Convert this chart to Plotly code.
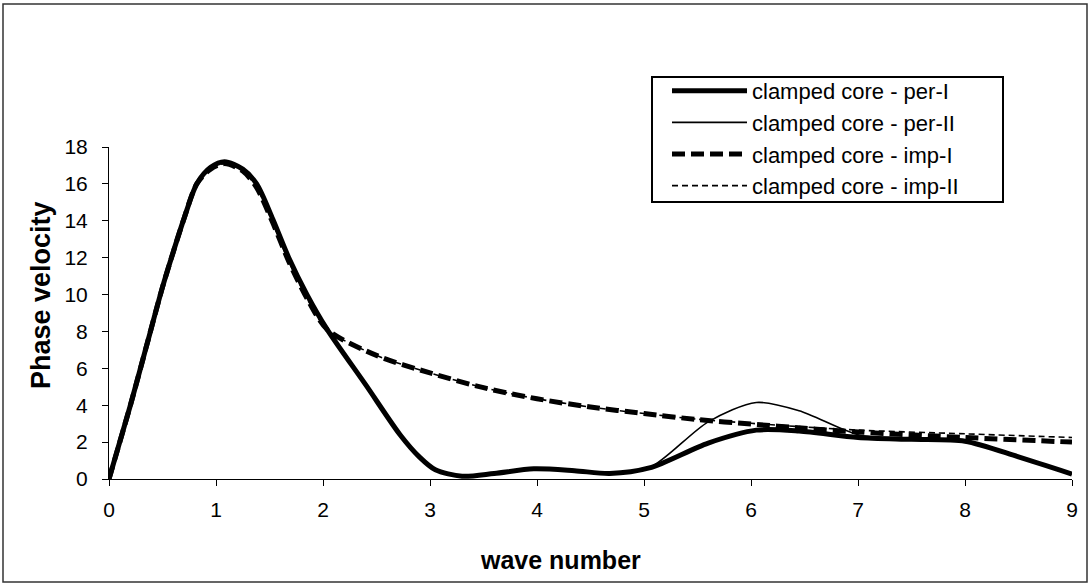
import plotly.graph_objects as go

# ---- data ----
x_per = [0, 0.2, 0.35, 0.5, 0.6, 0.7, 0.82, 0.95, 1.08, 1.25, 1.38, 1.53, 1.68, 1.85, 2.04,
         2.4, 2.72, 2.9, 3.05, 3.3, 3.6, 3.97, 4.35, 4.68, 5.05, 5.6, 6.05, 6.45, 7.0, 7.5,
         8.0, 8.5, 9.0]
per_I = [0, 4.0, 7.2, 10.4, 12.3, 14.1, 16.0, 16.9, 17.2, 16.8, 16.0, 14.1, 12.0, 10.0, 8.1,
         5.1, 2.4, 1.2, 0.5, 0.15, 0.3, 0.55, 0.45, 0.3, 0.6, 1.95, 2.65, 2.6, 2.25, 2.15,
         2.05, 1.2, 0.27]
per_II = [0, 4.0, 7.2, 10.4, 12.3, 14.1, 16.0, 16.9, 17.2, 16.8, 16.0, 14.1, 12.0, 10.0, 8.1,
          5.1, 2.4, 1.2, 0.5, 0.15, 0.3, 0.55, 0.45, 0.3, 0.6, 3.1, 4.15, 3.7, 2.4, 2.15,
          2.05, 1.2, 0.27]

x_imp = [0, 0.2, 0.35, 0.5, 0.6, 0.7, 0.82, 0.95, 1.08, 1.25, 1.38, 1.53, 1.68, 1.85, 2.04,
         2.5, 3.0, 3.5, 4.0, 4.5, 5.0, 5.5, 6.0, 6.5, 7.0, 8.0, 9.0]
imp_I = [0, 4.0, 7.2, 10.4, 12.3, 14.1, 16.0, 16.8, 17.1, 16.7, 15.8, 13.9, 11.8, 9.8, 8.1,
         6.7, 5.75, 4.95, 4.35, 3.9, 3.55, 3.22, 2.98, 2.75, 2.55, 2.25, 2.0]
imp_II = [0, 4.0, 7.2, 10.4, 12.3, 14.1, 16.0, 16.8, 17.1, 16.7, 15.8, 13.9, 11.8, 9.8, 8.1,
          6.7, 5.75, 4.95, 4.35, 3.9, 3.55, 3.24, 3.02, 2.82, 2.65, 2.45, 2.25]

names = ["clamped core - per-I", "clamped core - per-II",
         "clamped core - imp-I", "clamped core - imp-II"]

x_ticks = list(range(0, 10))
y_ticks = list(range(0, 19, 2))

FONT = "Liberation Sans, Arial, sans-serif"

fig = go.Figure()
fig.add_trace(go.Scatter(x=x_per, y=per_I, name=names[0], mode="lines",
                         line=dict(color="black", width=5, shape="spline", smoothing=0.8)))
fig.add_trace(go.Scatter(x=x_per, y=per_II, name=names[1], mode="lines",
                         line=dict(color="black", width=1.6, shape="spline", smoothing=0.8)))
fig.add_trace(go.Scatter(x=x_imp, y=imp_I, name=names[2], mode="lines",
                         line=dict(color="black", width=5, dash="13px,6px",
                                   shape="spline", smoothing=0.8)))
fig.add_trace(go.Scatter(x=x_imp, y=imp_II, name=names[3], mode="lines",
                         line=dict(color="black", width=1.6, dash="6px,4px",
                                   shape="spline", smoothing=0.8)))

L, R, T, B = 109, 19, 147, 105
W, H = 1091, 584
pw, ph = W - L - R, H - T - B

def px_x(p):
    return (p - L) / pw

def px_y(p):
    return (H - B - p) / ph

fig.update_layout(
    width=W, height=H,
    margin=dict(l=L, r=R, t=T, b=B, autoexpand=False),
    paper_bgcolor="white", plot_bgcolor="white",
    font=dict(family=FONT, size=21, color="black"),
    showlegend=True,
    legend=dict(x=px_x(667), y=px_y(70), xanchor="left", yanchor="top",
                bgcolor="rgba(0,0,0,0)", borderwidth=0,
                font=dict(family=FONT, size=22, color="black"),
                itemwidth=75, tracegroupgap=0),
    xaxis=dict(range=[0, 9], tickvals=x_ticks, showgrid=False, zeroline=False,
               showline=True, linecolor="black", linewidth=1,
               ticks="outside", ticklen=6, tickcolor="black", tickwidth=1,
               ticklabelstandoff=6),
    yaxis=dict(range=[0, 18], tickvals=y_ticks, showgrid=False, zeroline=False,
               showline=True, linecolor="black", linewidth=1,
               ticks="outside", ticklen=6, tickcolor="black", tickwidth=1,
               ticklabelstandoff=10),
    annotations=[
        dict(text="<b>wave number</b>", xref="paper", yref="paper",
             x=px_x(560), y=px_y(560), xanchor="center", yanchor="middle",
             showarrow=False, font=dict(family=FONT, size=25)),
        dict(text="<b>Phase velocity</b>", xref="paper", yref="paper",
             x=px_x(41), y=px_y(295), xanchor="center", yanchor="middle",
             textangle=-90, showarrow=False, font=dict(family=FONT, size=27)),
    ],
    shapes=[
        dict(type="rect", xref="paper", yref="paper",
             x0=px_x(3), x1=px_x(1087), y0=px_y(582), y1=px_y(4),
             line=dict(color="#333333", width=1.5), fillcolor="rgba(0,0,0,0)",
             layer="below"),
        dict(type="rect", xref="paper", yref="paper",
             x0=px_x(652), x1=px_x(1003), y0=px_y(202), y1=px_y(77),
             line=dict(color="black", width=2), fillcolor="white",
             layer="below"),
    ],
)

fig.write_html("out.html")
